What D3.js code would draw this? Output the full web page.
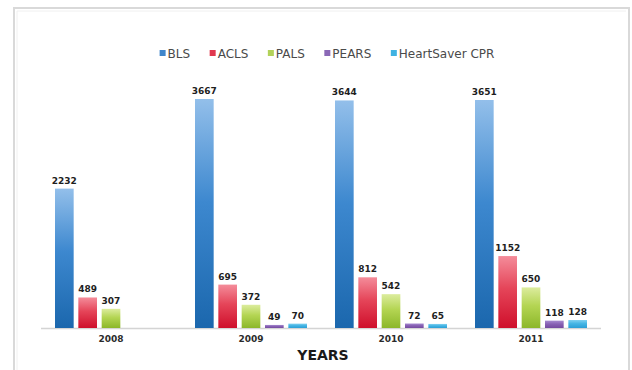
<!DOCTYPE html>
<html>
<head>
<meta charset="utf-8">
<script src="https://cdn.jsdelivr.net/npm/d3@7"></script>
<style>
  html, body { margin: 0; padding: 0; background: #ffffff; }
  svg { display: block; }
</style>
</head>
<body>
<svg id="chart" width="632" height="370"></svg>
<script>
// Course enrolment per year, by certification programme
const years = ["2008", "2009", "2010", "2011"];
const courses = ["BLS", "ACLS", "PALS", "PEARS", "HeartSaver CPR"];
const bls = [2232, 3667, 3644, 3651];
const acls = [489, 695, 812, 1152];
const pals = [307, 372, 542, 650];
const pears = [null, 49, 72, 118];
const heartsaver = [null, 70, 65, 128];
const axisTitle = "YEARS";

const seriesValues = [bls, acls, pals, pears, heartsaver];
const gradientStops = [
  ["#93bfea", "#3d88cf", "#1b67ad"],
  ["#f48c9a", "#e54559", "#cf0f2b"],
  ["#dcec9e", "#b4d553", "#8cb72a"],
  ["#a68ad0", "#8862b4", "#7449a0"],
  ["#7fd0f0", "#45b5e4", "#2a9fd6"]
];
const legendColors = ["#3f86cc", "#e0384f", "#b2d25a", "#8a68b6", "#3fb2e2"];

const svg = d3.select("#chart");
const W = 632, H = 370;

// Panel frame
svg.append("path")
  .attr("d", "M14,370 L14,8 L629,8 L629,370")
  .attr("fill", "none")
  .attr("stroke", "#d9d9d9")
  .attr("stroke-width", 2);
svg.append("path")
  .attr("d", "M17,370 L17,11 L626,11")
  .attr("fill", "none")
  .attr("stroke", "#f0f0f0")
  .attr("stroke-width", 1);

// Vertical gradients, one per course
const defs = svg.append("defs");
courses.forEach((c, i) => {
  const g = defs.append("linearGradient")
    .attr("id", "grad" + i)
    .attr("x1", 0).attr("y1", 0).attr("x2", 0).attr("y2", 1);
  g.append("stop").attr("offset", "0%").attr("stop-color", gradientStops[i][0]);
  g.append("stop").attr("offset", "45%").attr("stop-color", gradientStops[i][1]);
  g.append("stop").attr("offset", "100%").attr("stop-color", gradientStops[i][2]);
});

const x0 = d3.scaleBand()
  .domain(years)
  .range([41, 601])
  .paddingInner(0.2)
  .paddingOuter(0.1);

const x1 = d3.scaleBand()
  .domain(courses)
  .range([0, x0.bandwidth()])
  .paddingInner(0.2);

const baseY = 328;
const y = d3.scaleLinear()
  .domain([0, 3651])
  .range([baseY, 100]);

// Category axis line and year labels
const xAxis = d3.axisBottom(x0).tickSize(0).tickPadding(8);
const axisG = svg.append("g")
  .attr("transform", `translate(0,${baseY})`)
  .call(xAxis);
axisG.select(".domain")
  .attr("stroke", "#d4d4d4")
  .attr("stroke-width", 1.5)
  .attr("d", `M${x0.range()[0]},0.5H${x0.range()[1]}`);
axisG.selectAll(".tick text")
  .attr("font-family", "DejaVu Sans")
  .attr("font-weight", "bold")
  .attr("font-size", 9)
  .attr("fill", "#2b2b2b");

// Flatten into bar records
const bars = [];
years.forEach((yr, yi) => {
  courses.forEach((c, ci) => {
    const v = seriesValues[ci][yi];
    if (v != null) bars.push({ year: yr, course: c, ci, value: v });
  });
});

const barG = svg.append("g");
barG.selectAll("rect")
  .data(bars)
  .join("rect")
  .attr("x", d => x0(d.year) + x1(d.course))
  .attr("y", d => y(d.value))
  .attr("width", x1.bandwidth())
  .attr("height", d => baseY - y(d.value))
  .attr("fill", d => `url(#grad${d.ci})`);

barG.selectAll("text")
  .data(bars)
  .join("text")
  .attr("x", d => x0(d.year) + x1(d.course) + x1.bandwidth() / 2)
  .attr("y", d => y(d.value) - 5)
  .attr("text-anchor", "middle")
  .attr("font-family", "DejaVu Sans")
  .attr("font-weight", "bold")
  .attr("font-size", 9)
  .attr("fill", "#1e1e1e")
  .text(d => d.value);

// Axis title
svg.append("text")
  .attr("x", (x0.range()[0] + x0.range()[1]) / 2 + 2)
  .attr("y", 360)
  .attr("text-anchor", "middle")
  .attr("font-family", "DejaVu Sans")
  .attr("font-weight", "bold")
  .attr("font-size", 14)
  .attr("fill", "#1a1a1a")
  .text(axisTitle);

// Legend, laid out from measured text widths and centred
const legend = svg.append("g");
const items = legend.selectAll("g")
  .data(courses)
  .join("g");
items.append("rect")
  .attr("width", 6).attr("height", 6)
  .attr("y", -4)
  .attr("fill", (d, i) => legendColors[i]);
items.append("text")
  .attr("x", 8)
  .attr("y", 0)
  .attr("dy", "0.35em")
  .attr("font-family", "DejaVu Sans")
  .attr("font-size", 12)
  .attr("fill", "#4a4a4a")
  .text(d => d);

let offset = 0;
items.each(function () {
  const g = d3.select(this);
  g.attr("transform", `translate(${offset},0)`);
  const tw = g.select("text").node().getComputedTextLength();
  offset += 8 + tw + 19.5;
});
const totalW = offset - 19.5;
legend.attr("transform", `translate(${327 - totalW / 2},54)`);
</script>
</body>
</html>
